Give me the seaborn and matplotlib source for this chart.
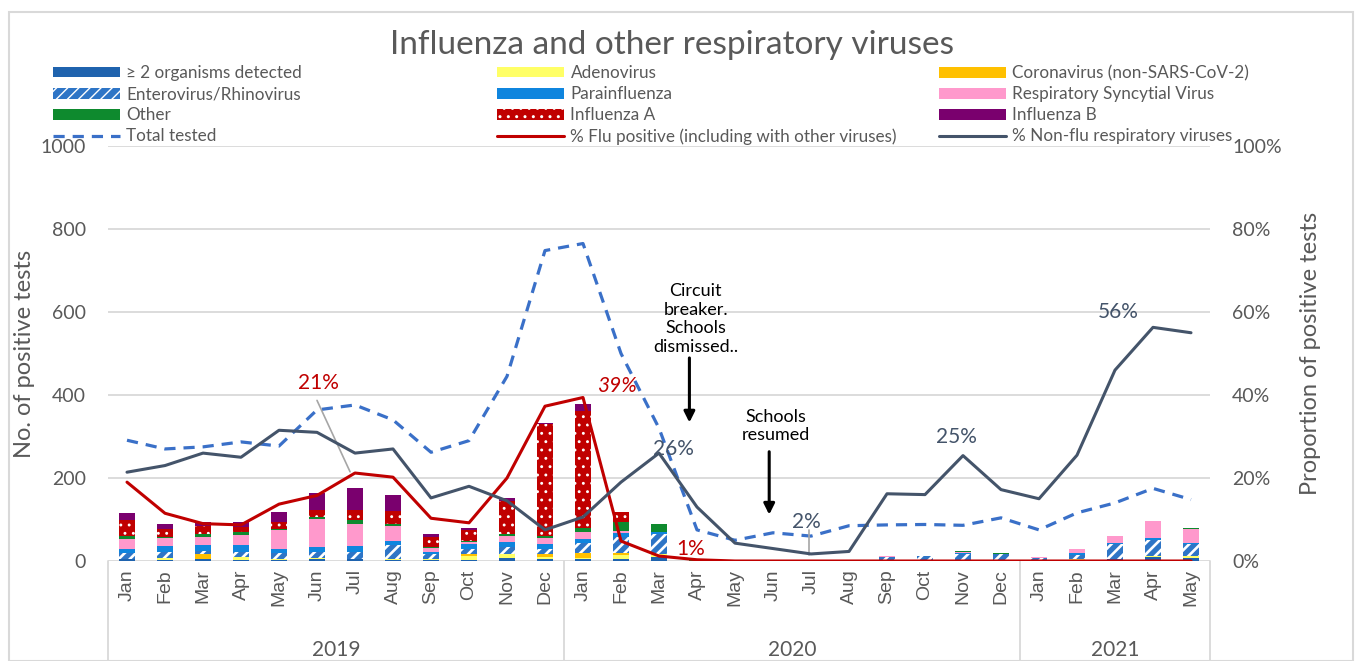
import numpy as np
import matplotlib
matplotlib.use("Agg")
import matplotlib.pyplot as plt
import seaborn as sns
from matplotlib.patches import Patch, Rectangle
from matplotlib.lines import Line2D
from matplotlib.ticker import PercentFormatter

# ----------------------------------------------------------------
# data
# ----------------------------------------------------------------
MONTHS = ["Jan", "Feb", "Mar", "Apr", "May", "Jun", "Jul", "Aug", "Sep", "Oct", "Nov", "Dec",
          "Jan", "Feb", "Mar", "Apr", "May", "Jun", "Jul", "Aug", "Sep", "Oct", "Nov", "Dec",
          "Jan", "Feb", "Mar", "Apr", "May"]
YEARS = ["2019", "2020", "2021"]
YEAR_SPANS = [(0, 11), (12, 23), (24, 28)]

multi = [4, 2, 4, 3, 3, 4, 5, 3, 2, 3, 8, 6,
         4, 6, 10, 0, 0, 0, 0, 0, 0, 0, 0, 0,
         0, 2, 5, 10, 8]
adeno = [2, 5, 0, 7, 3, 3, 0, 3, 4, 10, 8, 4,
         4, 8, 8, 0, 0, 0, 0, 0, 0, 0, 0, 0,
         0, 2, 0, 2, 4]
corona = [0, 0, 12, 0, 0, 0, 0, 0, 0, 5, 0, 8,
          12, 5, 0, 0, 0, 0, 0, 0, 0, 0, 0, 0,
          0, 0, 0, 0, 0]
entero = [14, 14, 8, 12, 14, 15, 17, 32, 10, 12, 18, 12,
          24, 38, 46, 0, 0, 0, 0, 0, 10, 11, 18, 16,
          7, 10, 36, 38, 30]
para = [10, 15, 14, 16, 8, 12, 14, 10, 5, 12, 12, 10,
        8, 10, 6, 0, 0, 0, 0, 0, 0, 0, 2, 0,
        0, 6, 2, 6, 2]
rsv = [22, 19, 20, 24, 46, 68, 54, 37, 10, 3, 14, 15,
       18, 6, 0, 0, 0, 0, 0, 0, 3, 0, 1, 1,
       3, 8, 18, 40, 32]
other = [9, 4, 8, 7, 4, 3, 8, 5, 2, 2, 6, 5,
         10, 20, 18, 4, 0, 0, 0, 0, 0, 2, 2, 2,
         0, 2, 0, 0, 4]
flu_a = [37, 18, 18, 12, 15, 18, 26, 30, 24, 28, 78, 270,
         282, 26, 0, 0, 0, 0, 0, 0, 0, 0, 0, 0,
         0, 0, 0, 0, 0]
flu_b = [18, 13, 10, 14, 26, 42, 53, 38, 8, 4, 8, 2,
         16, 0, 0, 0, 0, 0, 0, 0, 0, 0, 0, 0,
         0, 0, 0, 0, 0]

total_tested = [291, 270, 275, 287, 277, 364, 376, 340, 262, 290, 445, 748,
                765, 500, 320, 75, 50, 68, 60, 85, 87, 88, 86, 104,
                75, 116, 140, 175, 148]
pct_flu = [19.0, 11.5, 9.0, 8.7, 13.7, 15.8, 21.2, 20.2, 10.3, 9.2, 20.0, 37.3,
           39.4, 4.8, 1.2, 0.3, 0, 0, 0, 0, 0, 0, 0, 0,
           0, 0, 0, 0, 0]
pct_nonflu = [21.4, 23.0, 26.0, 25.0, 31.5, 31.0, 26.0, 27.0, 15.2, 18.0, 14.5, 7.5,
              10.6, 19.0, 26.0, 13.0, 4.3, 3.0, 1.7, 2.3, 16.2, 16.0, 25.4, 17.2,
              15.0, 25.5, 46.0, 56.3, 55.0]

# ----------------------------------------------------------------
# style
# ----------------------------------------------------------------
sns.set_theme(style="white")
plt.rcParams["font.family"] = ["Lato", "DejaVu Sans"]
GREY_TXT = "#595959"
GRID = "#D9D9D9"

C_MULTI = "#1F63AE"
C_ADENO = "#FFFF66"
C_CORONA = "#FFC000"
C_ENTERO = "#2E75C6"
C_PARA = "#0F85DE"
C_RSV = "#FF99CC"
C_OTHER = "#0E8A2E"
C_FLUA = "#C00000"
C_FLUB = "#7A006E"
C_TOTAL = "#3A70C8"
C_NONFLU = "#44546A"

# layer: (label, values, colour, hatch, hatch linewidth)
layers = [
    ("\u2265 2 organisms detected", multi, C_MULTI, None, 1.0),
    ("Adenovirus", adeno, C_ADENO, None, 1.0),
    ("Coronavirus (non-SARS-CoV-2)", corona, C_CORONA, None, 1.0),
    ("Enterovirus/Rhinovirus", entero, C_ENTERO, "///", 1.9),
    ("Parainfluenza", para, C_PARA, None, 1.0),
    ("Respiratory Syncytial Virus", rsv, C_RSV, None, 1.0),
    ("Other", other, C_OTHER, None, 1.0),
    ("Influenza A", flu_a, C_FLUA, "..", 0.9),
    ("Influenza B", flu_b, C_FLUB, None, 1.0),
]

W, H = 1355, 661
fig = plt.figure(figsize=(W / 100, H / 100), dpi=100)
fig.patch.set_facecolor("white")
fig.patches.append(Rectangle((9 / W, 0), (1353 - 9) / W, 1 - 12 / H, transform=fig.transFigure,
                             fill=False, edgecolor=GRID, linewidth=1.5))

L, R, T, B = 108, 1210, 146, 561
ax = fig.add_axes([L / W, 1 - B / H, (R - L) / W, (B - T) / H])
x = np.arange(len(MONTHS))

# stacked bars: draw cumulative totals from the top layer down
cum = np.cumsum(np.array([l[1] for l in layers], dtype=float), axis=0)
for i in range(len(layers) - 1, -1, -1):
    label, vals, col, hatch, hlw = layers[i]
    with plt.rc_context({"hatch.linewidth": hlw}):
        sns.barplot(x=x, y=cum[i], color=col, saturation=1, errorbar=None, native_scale=True,
                    width=0.42, hatch=hatch, edgecolor="white" if hatch else col,
                    linewidth=0, ax=ax, zorder=3)

sns.lineplot(x=x, y=total_tested, color=C_TOTAL, linewidth=2.3, ax=ax, zorder=4,
             dashes=False, linestyle=(0, (3.5, 2.5)))

ax.set_xlim(-0.5, len(MONTHS) - 0.5)
ax.set_ylim(0, 1000)
ax.set_yticks(range(0, 1001, 200))
ax.yaxis.grid(True, color=GRID, linewidth=1.3, zorder=0)
ax.set_axisbelow(True)
for s in ax.spines.values():
    s.set_visible(False)
ax.tick_params(axis="y", length=0, pad=16, labelsize=14, labelcolor=GREY_TXT)
ax.set_xticks(x)
ax.set_xticklabels(MONTHS, rotation=90, fontsize=14, color=GREY_TXT, family="Liberation Sans")
ax.tick_params(axis="x", length=0, pad=6)
ax.set_ylabel("No. of positive tests", fontsize=17, color=GREY_TXT)
ax.yaxis.set_label_coords(-0.066, 0.5)
ax.set_xlabel("")

# two-level category axis
trans = ax.get_xaxis_transform()
for xb in [-0.5, 11.5, 23.5, 28.5]:
    ax.plot([xb, xb], [0, -0.24], transform=trans, color=GRID, linewidth=1.3, clip_on=False)
for yr, (a, b) in zip(YEARS, YEAR_SPANS):
    ax.text((a + b) / 2, -0.215, yr, transform=trans, ha="center", va="center",
            fontsize=15, color=GREY_TXT)

# percentage axis
ax2 = ax.twinx()
sns.lineplot(x=x, y=np.array(pct_flu) / 100, color=C_FLUA, linewidth=2.2, ax=ax2, zorder=5)
sns.lineplot(x=x, y=np.array(pct_nonflu) / 100, color=C_NONFLU, linewidth=2.2, ax=ax2, zorder=5)
ax2.set_ylim(0, 1)
ax2.set_xlim(-0.5, len(MONTHS) - 0.5)
ax2.set_yticks(np.arange(0, 1.01, 0.2))
ax2.yaxis.set_major_formatter(PercentFormatter(1.0, decimals=0))
ax2.tick_params(axis="y", length=0, pad=16, labelsize=14, labelcolor=GREY_TXT)
for s in ax2.spines.values():
    s.set_visible(False)
ax2.set_ylabel("Proportion of positive tests", fontsize=17, color=GREY_TXT)
ax2.yaxis.set_label_coords(1.082, 0.5)
ax2.grid(False)

# annotations
ax2.text(5.03, 0.43, "21%", color=C_FLUA, fontsize=15, ha="center", va="center")
ax2.plot([5.0, 5.87], [0.387, 0.215], color="#A6A6A6", linewidth=1.2, zorder=4)
ax2.text(12.9, 0.421, "39%", color=C_FLUA, fontsize=15, ha="center", va="center", style="italic")
ax2.text(14.37, 0.27, "26%", color=C_NONFLU, fontsize=15, ha="center", va="center")
ax2.text(14.82, 0.028, "1%", color=C_FLUA, fontsize=15, ha="center", va="center")
ax2.text(17.87, 0.095, "2%", color=C_NONFLU, fontsize=15, ha="center", va="center")
ax2.plot([17.95, 17.95], [0.075, 0.015], color="#A6A6A6", linewidth=1.2, zorder=4)
ax2.text(21.84, 0.298, "25%", color=C_NONFLU, fontsize=15, ha="center", va="center")
ax2.text(26.08, 0.60, "56%", color=C_NONFLU, fontsize=15, ha="center", va="center")

ax.text(14.97, 583, "Circuit\nbreaker.\nSchools\ndismissed..", ha="center", va="center",
        fontsize=13, color="black", linespacing=1.2, zorder=6)
ax.annotate("", xy=(14.8, 327), xytext=(14.8, 496),
            arrowprops=dict(arrowstyle="-|>", color="black", lw=2.2, mutation_scale=16), zorder=6)
ax.text(17.07, 325, "Schools\nresumed", ha="center", va="center",
        fontsize=13, color="black", linespacing=1.2, zorder=6)
ax.annotate("", xy=(16.9, 105), xytext=(16.9, 270),
            arrowprops=dict(arrowstyle="-|>", color="black", lw=2.2, mutation_scale=16), zorder=6)

# title
fig.text(672 / W, 1 - 45 / H, "Influenza and other respiratory viruses", ha="center", va="center",
         fontsize=24, color=GREY_TXT)

# legend: three columns
handles = []
for label, vals, col, hatch, hlw in layers:
    with plt.rc_context({"hatch.linewidth": hlw}):
        handles.append(Patch(facecolor=col, edgecolor="white" if hatch else col, hatch=hatch,
                             linewidth=0, label=label))
handles.append(Line2D([], [], color=C_TOTAL, linewidth=2.3, linestyle=(0, (3.5, 2.5)),
                      label="Total tested"))
handles.append(Line2D([], [], color=C_FLUA, linewidth=2.2,
                      label="% Flu positive (including with other viruses)"))
handles.append(Line2D([], [], color=C_NONFLU, linewidth=2.2,
                      label="% Non-flu respiratory viruses"))

col_x = [53, 497, 939]
for c in range(3):
    hs = [handles[c + 3 * r] for r in range(4)]
    fig.legend(handles=hs, labels=[h.get_label() for h in hs], loc="upper left",
               bbox_to_anchor=(col_x[c] / W, 1 - 65 / H), frameon=False, borderpad=0,
               borderaxespad=0, fontsize=12.3, handlelength=3.9, handleheight=0.6,
               handletextpad=0.4, labelspacing=0.3, labelcolor=GREY_TXT)

fig.savefig("out.png", dpi=100)
